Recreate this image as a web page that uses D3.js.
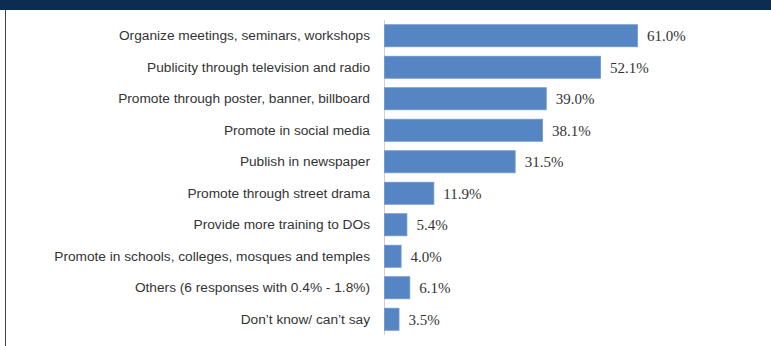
<!DOCTYPE html>
<html>
<head>
<meta charset="utf-8">
<script src="https://cdn.jsdelivr.net/npm/d3@7"></script>
<style>
  html, body { margin: 0; padding: 0; background: #fff; }
  svg { display: block; }
</style>
</head>
<body>
<svg id="chart" width="771" height="346"></svg>
<script>
// Survey responses: ways to raise awareness
const categories = [
  "Organize meetings, seminars, workshops",
  "Publicity through television and radio",
  "Promote through poster, banner, billboard",
  "Promote in social media",
  "Publish in newspaper",
  "Promote through street drama",
  "Provide more training to DOs",
  "Promote in schools, colleges, mosques and temples",
  "Others (6 responses with 0.4% - 1.8%)",
  "Don\u2019t know/ can\u2019t say"
];
const values = [61.0, 52.1, 39.0, 38.1, 31.5, 11.9, 5.4, 4.0, 6.1, 3.5];
const valueLabels = ["61.0%", "52.1%", "39.0%", "38.1%", "31.5%", "11.9%", "5.4%", "4.0%", "6.1%", "3.5%"];

const svg = d3.select("#chart");
const W = 771, H = 346;

// header band and frame
svg.append("rect").attr("x", 0).attr("y", 0).attr("width", W).attr("height", 10).attr("fill", "#0c2d51");
svg.append("line").attr("x1", 5.5).attr("x2", 5.5).attr("y1", 10).attr("y2", H)
  .attr("stroke", "#444").attr("stroke-width", 1);

const x0 = 384;
const x = d3.scaleLinear().domain([0, 61.0]).range([x0, 637]);
const y = d3.scaleBand().domain(categories).range([20, 335]).paddingInner(0.3).paddingOuter(0.15);

// category axis
const yAxis = d3.axisLeft(y).tickSize(0).tickPadding(14);
const gy = svg.append("g").attr("transform", `translate(${x0},0)`).call(yAxis);
gy.select(".domain").attr("stroke", "#d0d0d0").attr("d", `M0.5,20V335`);
gy.selectAll("text")
  .attr("font-family", "'Liberation Sans', Arial, sans-serif")
  .attr("font-size", "13.7px")
  .attr("fill", "#333");

// bars
svg.append("g").selectAll("rect").data(values).join("rect")
  .attr("x", x0 + 0.5)
  .attr("y", (d, i) => y(categories[i]))
  .attr("width", d => x(d) - x0)
  .attr("height", y.bandwidth())
  .attr("fill", "#5585c3")
  .attr("stroke", "#6d97cd")
  .attr("stroke-width", 0.8);

// value labels
svg.append("g").selectAll("text").data(values).join("text")
  .attr("x", d => x(d) + 10)
  .attr("y", (d, i) => y(categories[i]) + y.bandwidth() / 2)
  .attr("dy", "0.35em")
  .attr("font-family", "'Liberation Serif', 'Times New Roman', serif")
  .attr("font-size", "15px")
  .attr("fill", "#333")
  .text((d, i) => valueLabels[i]);
</script>
</body>
</html>
